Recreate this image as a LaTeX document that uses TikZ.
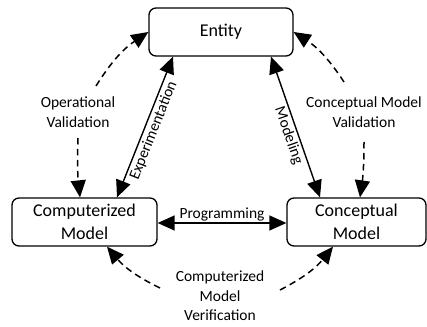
\documentclass[tikz,border=0pt]{standalone}
\usepackage{fontspec}
\setmainfont{Carlito}
\usetikzlibrary{arrows.meta}
\begin{document}
\begin{tikzpicture}[x=1pt,y=1pt,
  box/.style={draw, line width=1.3pt, rounded corners=7pt, align=center,
    font=\fontsize{18}{23}\selectfont, inner sep=0pt},
  lbl/.style={align=center, font=\fontsize{15.5}{19.5}\selectfont, inner sep=1pt},
  head/.tip={Triangle[length=17pt,width=15pt]},
  tip/.style={-head},
  duo/.style={head-head},
  link/.style={line width=1.4pt},
  loop/.style={line width=1.5pt, dash pattern=on 6.5pt off 4.5pt, tip},
  bend angle=12]
\useasboundingbox (0,0) rectangle (427,326);

% the three boxes
\node[box, minimum width=144pt, minimum height=48pt] (ent) at (221,294) {Entity};
\node[box, minimum width=145pt, minimum height=48pt] (comp) at (84.5,104) {Computerized\\Model};
\node[box, minimum width=139pt, minimum height=48pt] (conc) at (356.5,104) {Conceptual\\Model};

% labels of the dashed loops
\node[lbl] (opval) at (78,214) {Operational\\Validation};
\node[lbl] (cmval) at (364,214) {Conceptual Model\\Validation};
\node[lbl] (cmver) at (220,30) {Computerized\\Model\\Verification};

% solid two-way links
\draw[link, duo] ([xshift=32.5pt]comp.north) -- node[sloped, below, lbl, pos=0.5, inner sep=2pt] {Experimentation} ([xshift=-48pt]ent.south);
\draw[link, duo] ([xshift=50pt]ent.south) -- node[sloped, below, lbl, pos=0.54, inner sep=2pt] {Modeling} ([xshift=-36.5pt]conc.north);
\draw[link, duo] ([yshift=-1pt]comp.east) -- node[above, lbl, inner sep=1pt] {Programming} ([yshift=-1pt]conc.west);

% free ends of the dashed loops
\coordinate (a1) at (96,240);
\coordinate (a2) at (78,188);
\coordinate (b1) at (344,244);
\coordinate (b2) at (364,184);
\coordinate (c1) at (160,38);
\coordinate (c2) at (280,36);

% dashed loops
\draw[loop] (a1) to[bend left] (ent.west);
\draw[loop] (a2) to[bend right=4] ([xshift=-4.5pt]comp.north);
\draw[loop] (b1) to[bend right] (ent.east);
\draw[loop] (b2) to[bend left=4] ([xshift=3.5pt]conc.north);
\draw[loop] (c1) to[bend left] ([xshift=22.5pt]comp.south);
\draw[loop] (c2) to[bend right] ([xshift=-23.5pt]conc.south);
\end{tikzpicture}
\end{document}
